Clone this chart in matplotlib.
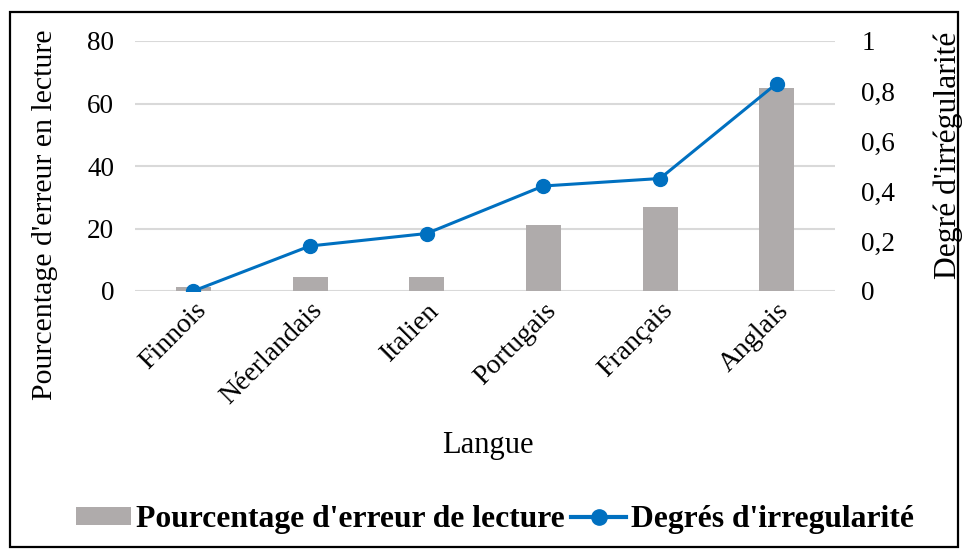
import matplotlib
matplotlib.use("Agg")
import matplotlib.pyplot as plt
from matplotlib.patches import Rectangle, Patch
from matplotlib.lines import Line2D
import numpy as np

plt.rcParams['font.family'] = ['Liberation Serif', 'DejaVu Serif']

langues = ["Finnois", "Néerlandais", "Italien", "Portugais", "Français", "Anglais"]
erreur = [1.4, 4.4, 4.4, 21, 27, 65]
irregularite = [0.0, 0.18, 0.23, 0.42, 0.45, 0.83]
left_ticks = [0, 20, 40, 60, 80]
right_ticks = [0, 0.2, 0.4, 0.6, 0.8, 1.0]
right_labels = ["0", "0,2", "0,4", "0,6", "0,8", "1"]

W, H = 965, 557
fig = plt.figure(figsize=(W / 100, H / 100), dpi=100)
ax = fig.add_axes([135 / W, 1 - 291 / H, 700 / W, 250 / H])
ax2 = ax.twinx()

bar_color = "#AFABAB"
line_color = "#0070C0"
grid_color = "#D9D9D9"

x = np.arange(len(langues))
ax.bar(x, erreur, width=0.3, color=bar_color, zorder=2)
ax.set_xlim(-0.5, len(langues) - 0.5)
ax.set_ylim(0, 80)
ax.set_yticks(left_ticks)
ax.set_yticklabels([str(t) for t in left_ticks])
for t in left_ticks:
    ax.axhline(t, color=grid_color, lw=1.5, zorder=1)

ax2.plot(x, irregularite, color=line_color, lw=2.2, marker='o', markersize=10, zorder=3)
ax2.set_ylim(0, 1)
ax2.set_yticks(right_ticks)
ax2.set_yticklabels(right_labels)

for a in (ax, ax2):
    for s in a.spines.values():
        s.set_visible(False)
ax.tick_params(axis='y', length=0, pad=15, labelsize=19.5)
ax2.tick_params(axis='y', length=0, pad=19, labelsize=19.5)
ax.set_xticks(x)
ax.set_xticklabels(langues, rotation=45, ha='right', rotation_mode='anchor')
ax.tick_params(axis='x', length=0, pad=5, labelsize=20)

fig.text(45 / W, 1 - 215 / H, "Pourcentage d'erreur en lecture", rotation=90,
         ha='center', va='center', fontsize=21.5)
fig.text(948 / W, 1 - 155 / H, "Degré d'irrégularité", rotation=90,
         ha='center', va='center', fontsize=22.8)
fig.text(488 / W, 1 - 445 / H, "Langue", ha='center', va='center', fontsize=22)

handles = [Patch(facecolor=bar_color, edgecolor='none'),
           Line2D([], [], color=line_color, lw=3, marker='o', markersize=11)]
fig.legend(handles, ["Pourcentage d'erreur de lecture", "Degrés d'irregularité"],
           loc='center', bbox_to_anchor=(495 / W, 1 - 520 / H), ncol=2, frameon=False,
           prop={'weight': 'bold', 'size': 22.8}, handlelength=1.75, handleheight=0.5,
           handletextpad=0.15, columnspacing=0.2)

fig.patches.append(Rectangle((10 / W, 1 - 547 / H), 948 / W, 535 / H, transform=fig.transFigure,
                             fill=False, edgecolor='black', lw=1.6))

fig.savefig("out.png", dpi=100)
